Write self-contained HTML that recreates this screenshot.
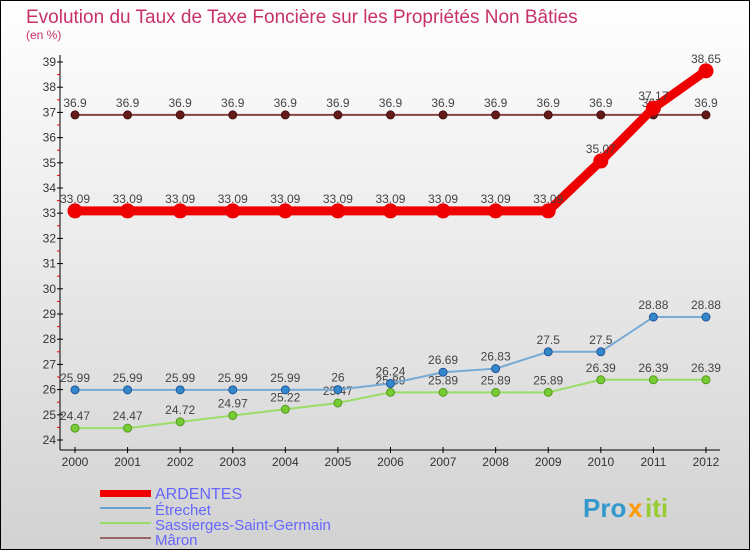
<!DOCTYPE html>
<html><head><meta charset="utf-8"><style>
body{margin:0}
svg{display:block;font-family:"Liberation Sans",sans-serif}
</style></head><body>
<svg id="c" width="750" height="550" xmlns="http://www.w3.org/2000/svg">
<defs><linearGradient id="bg" x1="0" y1="0" x2="0" y2="1"><stop offset="0" stop-color="#ffffff"/><stop offset="1" stop-color="#d2d2d2"/></linearGradient></defs>
<rect x="0.5" y="0.5" width="749" height="549" fill="url(#bg)" stroke="#000"/>
<text x="26" y="23" font-size="19" fill="#c8306a">Evolution du Taux de Taxe Foncière sur les Propriétés Non Bâties</text>
<text x="26" y="39" font-size="12" fill="#c8306a">(en %)</text>
<g id="axes"></g>
<g id="series"></g>
<g id="legend" font-size="15" fill="#6666ff">
<rect x="100" y="490" width="51" height="7" fill="#ee0000"/>
<text x="155" y="499" font-size="16">ARDENTES</text>
<line x1="100" y1="508" x2="151" y2="508" stroke="#6aa0cc" stroke-width="2"/>
<text x="155" y="515">Étrechet</text>
<line x1="100" y1="523" x2="151" y2="523" stroke="#99dd66" stroke-width="2"/>
<text x="155" y="530">Sassierges-Saint-Germain</text>
<line x1="100" y1="538" x2="151" y2="538" stroke="#996666" stroke-width="2"/>
<text x="155" y="545">Mâron</text>
</g>
<g font-size="26" font-weight="bold">
<text x="583" y="517" fill="#3399cc">Pro</text><text x="628" y="517" fill="#ff9900">x</text><text x="645" y="517" fill="#99cc33">iti</text>
</g>
</svg>
<script>
const years=[2000,2001,2002,2003,2004,2005,2006,2007,2008,2009,2010,2011,2012];
const ardentes=[33.09,33.09,33.09,33.09,33.09,33.09,33.09,33.09,33.09,33.09,35.07,37.17,38.65];
const etrechet=[25.99,25.99,25.99,25.99,25.99,26,26.24,26.69,26.83,27.5,27.5,28.88,28.88];
const sassierges=[24.47,24.47,24.72,24.97,25.22,25.47,25.89,25.89,25.89,25.89,26.39,26.39,26.39];
const maron=[36.9,36.9,36.9,36.9,36.9,36.9,36.9,36.9,36.9,36.9,36.9,36.9,36.9];
const yTicks=[24,25,26,27,28,29,30,31,32,33,34,35,36,37,38,39];
const NS="http://www.w3.org/2000/svg";
const X=i=>75+i*52.58;
const Y=v=>440-(v-24)*25.2;
function mk(tag,attrs,parent){const e=document.createElementNS(NS,tag);for(const k in attrs)e.setAttribute(k,attrs[k]);parent.appendChild(e);return e;}
const ax=document.getElementById('axes');
let yl=mk('line',{x1:60,y1:55,x2:60,y2:450,stroke:'#000'},ax);


let xl=mk('line',{x1:60,y1:450,x2:720,y2:450,stroke:'#000'},ax);


yTicks.forEach(v=>{
 mk('line',{x1:57,y1:Y(v),x2:63,y2:Y(v),stroke:'#000'},ax);
 if(v<39){mk('line',{x1:57,y1:Y(v+0.5),x2:60,y2:Y(v+0.5),stroke:'#e00'},ax);}
 const t=mk('text',{x:56,y:Y(v)+4,'text-anchor':'end','font-size':12,fill:'#333'},ax);
 t.textContent=v;
 
 
});
years.forEach((y,i)=>{
 mk('line',{x1:X(i),y1:447,x2:X(i),y2:453,stroke:'#000'},ax);
 const t=mk('text',{x:X(i),y:466,'text-anchor':'middle','font-size':12,fill:'#333'},ax);
 t.textContent=y;
 
 
});
const sg=document.getElementById('series');
function series(data,name,color,width,r,fill,stroke){
 const g=mk('g',{},sg);
 
 
 const l=mk('polyline',{points:data.map((v,i)=>X(i)+','+Y(v)).join(' '),fill:'none',stroke:color,'stroke-width':width,'stroke-linejoin':'round'},g);
 
 
 data.forEach((v,i)=>{
  const c=mk('circle',{cx:X(i),cy:Y(v),r:r,fill:fill,stroke:stroke,'stroke-width':1},g);
  
  
  const t=mk('text',{x:X(i),y:Y(v)-8,'text-anchor':'middle','font-size':12,fill:'#444'},g);
  t.textContent=v;
  
  
 });
}
series(sassierges,'sassierges','#99dd66',2,4,'#77cc33','#559922');
series(etrechet,'etrechet','#77aad4',2,4,'#3388cc','#225599');
series(maron,'maron','#884444',2,4,'#661a1a','#441111');
series(ardentes,'ardentes','#ee0000',9,7,'#ee0000','#ee0000');
</script>
</body></html>
